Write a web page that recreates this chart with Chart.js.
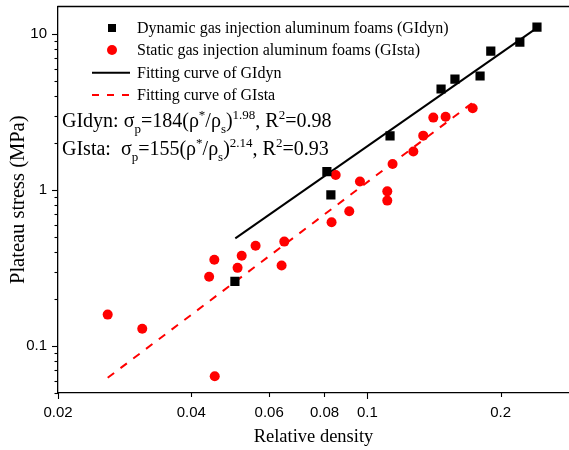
<!DOCTYPE html>
<html>
<head>
<meta charset="utf-8">
<script src="https://cdn.jsdelivr.net/npm/chart.js@4/dist/chart.umd.min.js"></script>
<style>
html,body{margin:0;padding:0;background:#ffffff;overflow:hidden}
#wrap{width:569px;height:450px;position:relative}
</style>
</head>
<body>
<div id="wrap"><canvas id="c" width="569" height="450"></canvas></div>
<script>
// ---- data ----
const xTickValues = [0.02, 0.04, 0.06, 0.08, 0.1, 0.2];
const yTickValues = [0.05,0.06,0.07,0.08,0.09,0.1,0.2,0.3,0.4,0.5,0.6,0.7,0.8,0.9,1,2,3,4,5,6,7,8,9,10];
const yTickLabels = [0.1, 1, 10];

const dynX = [0.0502, 0.0810, 0.0827, 0.1125, 0.1467, 0.1577, 0.1797, 0.1900, 0.2210, 0.2416];
const dynY = [0.26,   1.31,   0.93,   2.22,   4.44,   5.14,   5.38,   7.76,   8.87,   11.05];

const staX = [0.0259, 0.0310, 0.0439, 0.0451, 0.0452, 0.0509, 0.0520, 0.0559, 0.0640, 0.0649, 0.0830,
              0.0848, 0.0910, 0.0962, 0.1109, 0.1109, 0.1140, 0.1270, 0.1337, 0.1409, 0.1502, 0.1729];
const staY = [0.159,  0.129,  0.278,  0.357,  0.0641, 0.317,  0.379,  0.439,  0.328,  0.467,  0.621,
              1.247,  0.730,  1.135,  0.98,   0.855,  1.466,  1.765,  2.23,   2.91,   2.95,   3.34];

const fitDynX = [0.0503, 0.2416];
const fitDynY = [0.49, 10.95];
const fitStaX = [0.0259, 0.175];
const fitStaY = [0.0626, 3.72];

const seriesLabels = [
  'Dynamic gas injection aluminum foams (GIdyn)',
  'Static gas injection aluminum foams (GIsta)',
  'Fitting curve of GIdyn',
  'Fitting curve of GIsta'
];

const annoLines = [
  [['GIdyn: σ','n'],['p','sub'],['=184(ρ','n'],['*','sup'],['/ρ','n'],['s','sub'],[')','n'],['1.98','sup'],[', R','n'],['2','sup'],['=0.98','n']],
  [['GIsta:  σ','n'],['p','sub'],['=155(ρ','n'],['*','sup'],['/ρ','n'],['s','sub'],[')','n'],['2.14','sup'],[', R','n'],['2','sup'],['=0.93','n']]
];

const toPts = (xs, ys) => xs.map((x, i) => ({x: x, y: ys[i]}));

const SERIF = '"Liberation Serif", "Times New Roman", serif';
const SANS = '"Liberation Sans", Arial, sans-serif';

// let the plot area run to the right edge of the canvas (the reference is cropped there)
const stretchPlugin = {
  id: 'stretch',
  afterLayout(chart) {
    const extra = chart.width - chart.chartArea.right;
    if (extra > 0) {
      chart.chartArea.right += extra;
      chart.chartArea.width += extra;
      const xs = chart.scales.x;
      xs.right += extra;
      xs.width += extra;
      xs.configure();
    }
  }
};

const decorPlugin = {
  id: 'decor',
  afterDraw(chart) {
    const ctx = chart.ctx;
    const ca = chart.chartArea;
    const xs = chart.scales.x, ys = chart.scales.y;
    ctx.save();
    // top frame line
    ctx.strokeStyle = '#000';
    ctx.lineWidth = 1.3;
    ctx.beginPath();
    ctx.moveTo(ca.left - 0.6, ca.top);
    ctx.lineTo(chart.width, ca.top);
    ctx.stroke();
    // y ticks (outward, left)
    ctx.lineWidth = 1.1;
    ys.ticks.forEach(t => {
      const p = Math.round(ys.getPixelForValue(t.value)) + 0.5;
      const len = yTickLabels.includes(t.value) ? 6 : 3.5;
      ctx.beginPath();
      ctx.moveTo(ca.left, p);
      ctx.lineTo(ca.left - len, p);
      ctx.stroke();
    });
    // x ticks (outward, down)
    xs.ticks.forEach(t => {
      const p = Math.round(xs.getPixelForValue(t.value)) + 0.5;
      const len = (t.value === 0.1 || t.value === 0.02) ? 6 : 4;
      ctx.beginPath();
      ctx.moveTo(p, ca.bottom);
      ctx.lineTo(p, ca.bottom + len);
      ctx.stroke();
    });

    // legend inside plot
    const ds = chart.data.datasets;
    const lx = ca.left + 54, tx = ca.left + 79;
    const rows = [ca.top + 21.5, ca.top + 43.5, ca.top + 66.3, ca.top + 88.5];
    ctx.font = '16px ' + SERIF;
    ctx.textBaseline = 'middle';
    ctx.textAlign = 'left';
    ctx.fillStyle = ds[0].backgroundColor;
    ctx.fillRect(lx - 4, rows[0] - 4, 8, 8);
    ctx.fillStyle = ds[1].backgroundColor;
    ctx.beginPath();
    ctx.arc(lx, rows[1], 5, 0, Math.PI * 2);
    ctx.fill();
    ctx.strokeStyle = ds[2].borderColor;
    ctx.lineWidth = 2;
    ctx.setLineDash([]);
    ctx.beginPath();
    ctx.moveTo(ca.left + 34, rows[2]);
    ctx.lineTo(ca.left + 72, rows[2]);
    ctx.stroke();
    ctx.strokeStyle = ds[3].borderColor;
    ctx.setLineDash([7, 8]);
    ctx.beginPath();
    ctx.moveTo(ca.left + 34, rows[3]);
    ctx.lineTo(ca.left + 73, rows[3]);
    ctx.stroke();
    ctx.setLineDash([]);
    ctx.fillStyle = '#000';
    rows.forEach((y, i) => ctx.fillText(ds[i].label, tx, y + 1));

    // formula annotations
    const baseSize = 20, smallSize = 13;
    const bases = [ca.top + 120.7, ca.top + 148.7];
    ctx.textBaseline = 'alphabetic';
    annoLines.forEach((runs, li) => {
      let x = ca.left + 4;
      runs.forEach(([txt, kind]) => {
        let dy = 0;
        if (kind === 'n') ctx.font = baseSize + 'px ' + SERIF;
        else { ctx.font = smallSize + 'px ' + SERIF; dy = kind === 'sub' ? 6 : -8; }
        ctx.fillText(txt, x, bases[li] + dy);
        x += ctx.measureText(txt).width;
      });
    });
    ctx.restore();
  }
};

const chart = new Chart(document.getElementById('c'), {
  type: 'scatter',
  data: {
    datasets: [
      {label: seriesLabels[0], data: toPts(dynX, dynY), pointStyle: 'rect', pointRadius: 6.5,
       backgroundColor: '#000000', borderColor: '#000000', borderWidth: 0, showLine: false, order: 0},
      {label: seriesLabels[1], data: toPts(staX, staY), pointStyle: 'circle', pointRadius: 5,
       backgroundColor: '#ff0000', borderColor: '#ff0000', borderWidth: 0, showLine: false, order: 1},
      {label: seriesLabels[2], data: toPts(fitDynX, fitDynY), showLine: true, pointRadius: 0,
       borderColor: '#000000', borderWidth: 2, fill: false, order: 2},
      {label: seriesLabels[3], data: toPts(fitStaX, fitStaY), showLine: true, pointRadius: 0,
       borderColor: '#ff0000', borderWidth: 2, borderDash: [8, 8], fill: false, order: 3}
    ]
  },
  options: {
    responsive: false,
    animation: false,
    devicePixelRatio: 1,
    layout: {padding: {left: 0, right: 0, top: 6, bottom: 0}},
    plugins: {legend: {display: false}, tooltip: {enabled: false}},
    scales: {
      x: {
        type: 'logarithmic', position: 'bottom', min: 0.02, max: 0.2854,
        afterBuildTicks: s => { s.ticks = xTickValues.map(v => ({value: v})); },
        afterFit: s => { s.height = 57; s.paddingLeft = 0; s.paddingRight = 0; s.paddingTop = 0; s.paddingBottom = 0; },
        ticks: {autoSkip: false, maxRotation: 0, padding: 5, color: '#000', font: {family: SANS, size: 15},
                callback: v => String(v)},
        grid: {display: true, drawOnChartArea: false, drawTicks: true, tickLength: 6, tickColor: 'rgba(0,0,0,0)'},
        border: {display: true, color: '#000', width: 1.3},
        title: {display: true, text: 'Relative density', color: '#000', font: {family: SERIF, size: 18.5}, padding: {top: 0, bottom: 2}}
      },
      y: {
        type: 'logarithmic', position: 'left', min: 0.05, max: 15,
        afterBuildTicks: s => { s.ticks = yTickValues.map(v => ({value: v})); },
        afterFit: s => { s.width = 58; s.paddingLeft = 0; s.paddingRight = 0; s.paddingTop = 0; s.paddingBottom = 0; },
        ticks: {autoSkip: false, padding: 5, color: '#000', font: {family: SANS, size: 15},
                callback: v => yTickLabels.includes(v) ? String(v) : ''},
        grid: {display: true, drawOnChartArea: false, drawTicks: true, tickLength: 6, tickColor: 'rgba(0,0,0,0)'},
        border: {display: true, color: '#000', width: 1.3},
        title: {display: true, text: 'Plateau stress (MPa)', color: '#000', font: {family: SERIF, size: 20.5}, padding: {top: 6.5, bottom: 0}}
      }
    }
  },
  plugins: [stretchPlugin, decorPlugin]
});
</script>
</body>
</html>
